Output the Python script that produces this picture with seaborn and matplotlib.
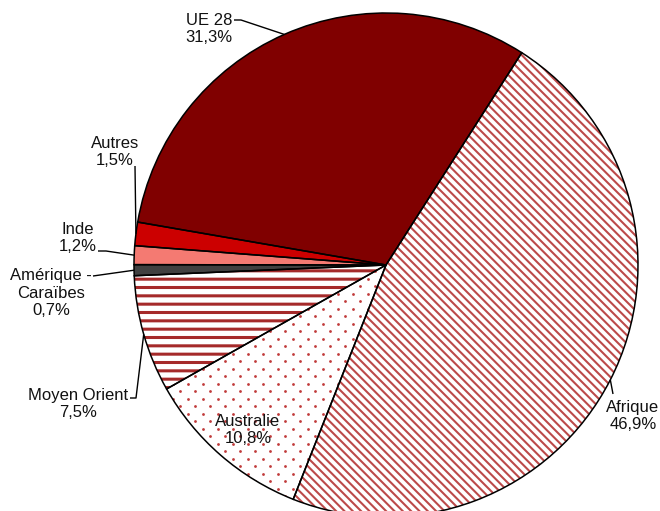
import numpy as np
import matplotlib
matplotlib.use("Agg")
import matplotlib.pyplot as plt
import seaborn as sns

# Shares by origin, clockwise from the Afrique slice
regions = ["Afrique", "Australie", "Moyen Orient", "Amérique - Caraïbes", "Inde", "Autres", "UE 28"]
shares = [46.9, 10.8, 7.5, 0.7, 1.2, 1.5, 31.3]

sns.set_theme(style="white")
plt.rcParams["font.family"] = ["Liberation Sans", "DejaVu Sans"]
plt.rcParams["hatch.linewidth"] = 1.5

W, H = 660, 511
CX, CY, R = 386, 265, 252

fig = plt.figure(figsize=(W / 100, H / 100), dpi=100)
ax = fig.add_axes([0, 0, 1, 1])

faces = ["white", "white", "white", "#404040", "#F47A72", "#CC0000", "#800000"]
hatch_cols = ["#BC4A4A", "white", "#A52A2A", "#404040", "#F47A72", "#CC0000", "#800000"]
hatches = ["\\\\\\\\", None, "--", None, None, None, None]

start = 57.4
wedges, _ = ax.pie(shares, startangle=start, counterclock=False, radius=R,
                   colors=faces, wedgeprops=dict(linewidth=0))
for w, ec, h in zip(wedges, hatch_cols, hatches):
    w.set_edgecolor(ec)
    if h:
        w.set_hatch(h)
        if h == "--" and hasattr(w, "set_hatch_linewidth"):
            w.set_hatch_linewidth(2.2)

# staggered dot texture for the Australie slice, clipped to its wedge
dot_wedge = wedges[regions.index("Australie")]
gx, gy = np.meshgrid(np.arange(-CX, W - CX, 15.0), np.arange(-(H - CY), CY, 7.5))
gx = gx + np.where((np.arange(gy.shape[0]) % 2)[:, None] == 1, 7.5, 0.0)
dots = ax.scatter(gx.ravel(), gy.ravel(), s=4, color="#C03A3A", linewidths=0, zorder=1.5)
dots.set_clip_path(dot_wedge)

# black outlines on top
ax.pie(shares, startangle=start, counterclock=False, radius=R,
       colors=["none"] * len(shares),
       wedgeprops=dict(fill=False, edgecolor="black", linewidth=1.1, zorder=2))

ax.set_xlim(-CX, W - CX)
ax.set_ylim(-(H - CY), CY)
ax.set_aspect("equal")
ax.axis("off")


def px(x, y):
    return x - CX, CY - y


# label centres and leader routes (pixel layout)
label_pos = {
    "Afrique": (633, 416),
    "Australie": (248, 430),
    "Moyen Orient": (78, 404),
    "Amérique - Caraïbes": (51, 293),
    "Inde": (78, 238),
    "Autres": (115, 152),
    "UE 28": (209, 29),
}
leader_start = {
    "Afrique": [(613, 394)],
    "Moyen Orient": [(130, 398), (136, 398)],
    "Amérique - Caraïbes": [(93, 276)],
    "Inde": [(98, 251), (106, 251)],
    "Autres": [(135, 166)],
    "UE 28": [(234, 20), (241, 20)],
}

for w, name, val in zip(wedges, regions, shares):
    txt = name.replace(" - ", " -\n") + "\n" + f"{val:.1f}%".replace(".", ",")
    lx, ly = px(*label_pos[name])
    ax.text(lx, ly, txt, ha="center", va="center", fontsize=12,
            color="#111111", linespacing=1.2, zorder=3)
    if name in leader_start:
        mid = np.deg2rad((w.theta1 + w.theta2) / 2)
        ex, ey = R * np.cos(mid), R * np.sin(mid)
        pts = [px(*p) for p in leader_start[name]] + [(ex, ey)]
        xs, ys = zip(*pts)
        ax.plot(xs, ys, color="black", linewidth=1.0, solid_capstyle="butt", zorder=3)

fig.savefig("out.png", dpi=100)
